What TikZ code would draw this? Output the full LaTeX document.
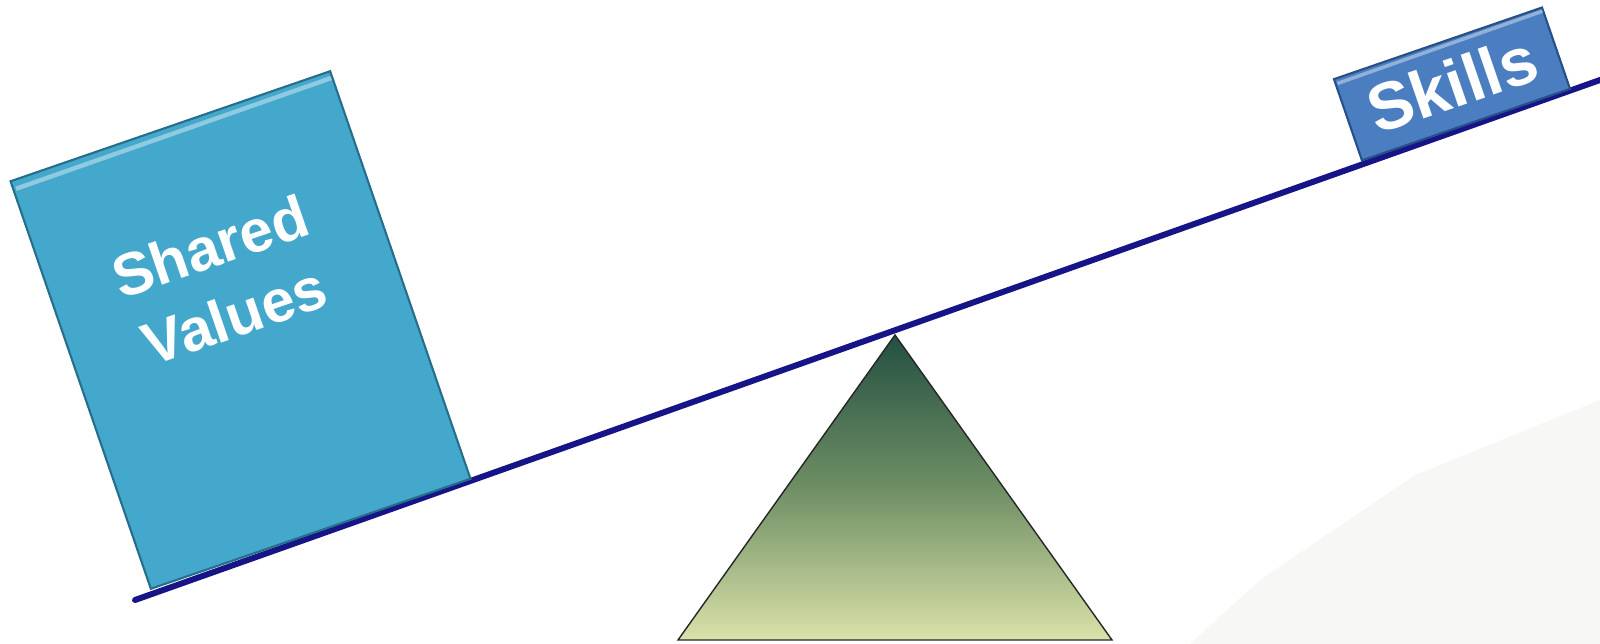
\documentclass[tikz,border=0pt]{standalone}
\usepackage{fontspec}
\setmainfont{Liberation Sans}
\usetikzlibrary{calc}
\definecolor{svblue}{RGB}{68,168,204}
\definecolor{svdark}{RGB}{38,110,140}
\definecolor{skblue}{RGB}{74,126,192}
\definecolor{skdark}{RGB}{40,80,135}
\definecolor{beam}{RGB}{22,20,135}
\definecolor{trtop}{RGB}{36,80,66}
\definecolor{trmid}{RGB}{110,142,100}
\definecolor{trbot}{RGB}{218,226,168}
\definecolor{faint}{RGB}{247,248,245}
\tikzset{
  weight/.style={rectangle, rotate=19, inner sep=0pt, line width=1.2pt},
  wtext/.style={rotate=19, anchor=base, inner sep=0pt, text=white},
  beamline/.style={draw=beam, line width=3.4pt, line cap=round},
  fulcrum/.style={draw=black!85, line width=0.8pt, top color=trtop, bottom color=trbot, middle color=trmid}
}
\begin{document}
\begin{tikzpicture}[x=1cm,y=1cm]
\useasboundingbox (0,0) rectangle (32,-12.88);
% faint background shape
\fill[faint] (23.8,-12.88) -- (25.2,-11.6) -- (28.3,-9.5) -- (32,-8.0) -- (32,-12.88) -- cycle;
% beam
\coordinate (L) at (2.7,-12.0);
\coordinate (R) at (32.0,-1.6);
\draw[beamline] (L) -- (R);
% fulcrum
\coordinate (apex) at (17.9,-6.7);
\coordinate (bl) at (13.56,-12.8);
\coordinate (br) at (22.24,-12.8);
\path[fulcrum] (apex) -- (br) -- (bl) -- cycle;
% Shared Values weight
\node[weight, fill=svblue, draw=svdark, minimum width=6.76cm, minimum height=8.62cm] (sv) at (4.81,-6.6) {};
\draw[white!40!svblue, line width=2.5pt] ($(sv.north west)!0.02!(sv.south west)+(0.08,0)$) -- ($(sv.north east)!0.02!(sv.south east)+(-0.05,0)$);
\node[wtext, font=\fontsize{34}{40}\selectfont\bfseries] (svt1) at (4.34,-5.33) {Shared};
\node[wtext, font=\fontsize{34}{40}\selectfont\bfseries] (svt2) at (4.83,-6.72) {Values};
% Skills weight
\node[weight, fill=skblue, draw=skdark, minimum width=4.4cm, minimum height=1.72cm] (sk) at (29.04,-1.68) {};
\draw[white!40!skblue, line width=2pt] ($(sk.north west)!0.06!(sk.south west)+(0.06,0)$) -- ($(sk.north east)!0.06!(sk.south east)+(-0.04,0)$);
\node[wtext, font=\fontsize{38}{44}\selectfont\bfseries] (skt) at (29.2,-2.13) {Skills};
\end{tikzpicture}
\end{document}
